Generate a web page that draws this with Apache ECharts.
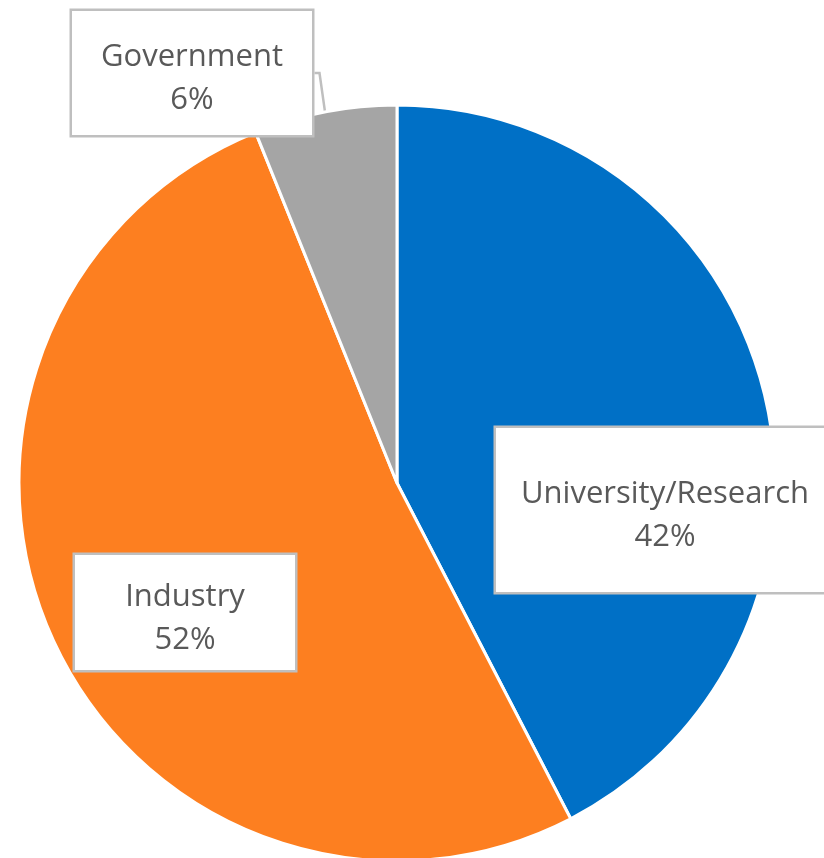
<!DOCTYPE html>
<html>
<head>
<meta charset="utf-8">
<script src="https://cdn.jsdelivr.net/npm/echarts@6/dist/echarts.min.js"></script>
<style>html,body{margin:0;padding:0;background:#fff}#c{width:824px;height:858px}</style>
</head>
<body>
<div id="c"></div>
<script>
const categories = ['University/Research', 'Industry', 'Government'];
const values = [42.4, 51.5, 6.1];
const colors = ['#0070C6', '#FD7F20', '#A5A5A5'];

// label box placement (top-left corners) and sizes
const labelPos = [[496, 428], [75, 555], [72, 11]];
const labelSize = [[338, 164], [220, 115], [240, 124]];

const chart = echarts.init(document.getElementById('c'));
chart.setOption({
  animation: false,
  series: [{
    type: 'pie',
    center: [397, 483],
    radius: 378,
    startAngle: 90,
    clockwise: true,
    itemStyle: { borderColor: '#fff', borderWidth: 3 },
    label: {
      show: true,
      position: 'outside',
      formatter: p => p.name + '\n' + Math.round(p.value) + '%',
      fontFamily: 'Open Sans',
      fontSize: 31,
      lineHeight: 43,
      color: '#595959',
      backgroundColor: '#fff',
      borderColor: '#BFBFBF',
      borderWidth: 2.5,
      align: 'center'
    },
    labelLine: { show: true, length: 5, length2: 5, lineStyle: { color: '#BFBFBF', width: 2.5 } },
    labelLayout: function (params) {
      const i = params.dataIndex;
      return { x: labelPos[i][0] + labelSize[i][0] / 2, y: labelPos[i][1], align: 'center', verticalAlign: 'top', moveOverlap: null };
    },
    data: categories.map((c, i) => ({
      name: c,
      value: values[i],
      itemStyle: { color: colors[i] },
      label: {
        width: labelSize[i][0],
        padding: [(labelSize[i][1] - 86) / 2 + 6, 0, (labelSize[i][1] - 86) / 2 - 6, 0]
      }
    }))
  }]
});
</script>
</body>
</html>
